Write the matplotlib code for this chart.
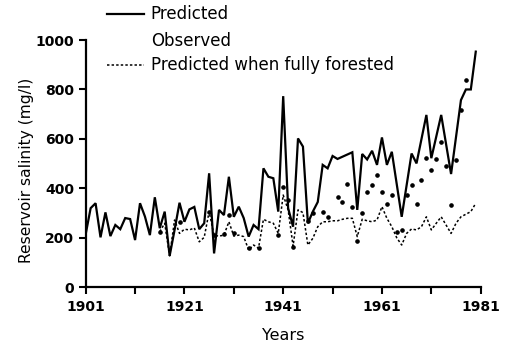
import matplotlib
matplotlib.use("Agg")
import matplotlib.pyplot as plt
from matplotlib.lines import Line2D

# Predicted reservoir salinity (mg/l)
pred_years = [1901, 1902, 1903, 1904, 1905, 1906, 1907, 1908, 1909, 1910,
              1911, 1912, 1913, 1914, 1915, 1916, 1917, 1918, 1919, 1920,
              1921, 1922, 1923, 1924, 1925, 1926, 1927, 1928, 1929, 1930,
              1931, 1932, 1933, 1934, 1935, 1936, 1937, 1938, 1939, 1940,
              1941, 1942, 1943, 1944, 1945, 1946, 1947, 1948, 1949, 1950,
              1951, 1952, 1955, 1956, 1957, 1958, 1959, 1960, 1961, 1962,
              1963, 1965, 1967, 1968, 1970, 1971, 1973, 1975, 1977, 1978,
              1979, 1980]
pred_vals = [215, 320, 340, 202, 303, 207, 252, 235, 280, 276,
             191, 340, 286, 211, 364, 239, 306, 127, 232, 342,
             265, 315, 325, 235, 259, 461, 137, 313, 292, 447,
             285, 326, 280, 205, 252, 235, 481, 447, 441, 306,
             773, 320, 245, 602, 569, 259, 306, 345, 495, 481,
             531, 519, 546, 313, 539, 517, 552, 495, 606, 495,
             548, 285, 541, 501, 697, 522, 697, 458, 757, 800,
             800, 953]

# Observed salinity
obs_years = [1916, 1920, 1926, 1927, 1929, 1930, 1931, 1934, 1936, 1940,
             1941, 1942, 1943, 1946, 1947, 1949, 1950, 1952, 1953, 1954,
             1955, 1956, 1957, 1958, 1959, 1960, 1961, 1962, 1963, 1964,
             1965, 1966, 1967, 1968, 1969, 1970, 1971, 1972, 1973, 1974,
             1975, 1976, 1977, 1978]
obs_vals = [225, 265, 306, 210, 215, 292, 218, 158, 160, 210,
            407, 353, 164, 270, 300, 306, 283, 366, 346, 418,
            326, 188, 302, 387, 414, 454, 387, 337, 373, 225,
            232, 373, 414, 337, 434, 522, 474, 519, 589, 490,
            333, 515, 717, 838]

# Predicted salinity under full forest cover
forest_years = [1916, 1917, 1918, 1919, 1920, 1921, 1922, 1923, 1924, 1925,
                1926, 1927, 1928, 1929, 1930, 1931, 1932, 1933, 1934, 1935,
                1936, 1937, 1938, 1939, 1940, 1941, 1942, 1943, 1944, 1945,
                1946, 1947, 1948, 1949, 1950, 1951, 1952, 1953, 1954, 1955,
                1956, 1957, 1958, 1959, 1960, 1961, 1962, 1963, 1964, 1965,
                1966, 1967, 1968, 1969, 1970, 1971, 1972, 1973, 1975, 1976,
                1977, 1979, 1980]
forest_vals = [225, 259, 127, 272, 218, 235, 232, 240, 184, 202,
               306, 210, 207, 211, 265, 207, 211, 205, 151, 171,
               158, 275, 265, 259, 218, 373, 313, 167, 313, 302,
               171, 198, 245, 265, 265, 269, 269, 275, 279, 279,
               205, 275, 269, 265, 272, 326, 279, 245, 200, 171,
               218, 236, 232, 245, 285, 232, 259, 285, 218, 259,
               285, 306, 340]

y_ticks = [0, 200, 400, 600, 800, 1000]
x_major = [1901, 1921, 1941, 1961, 1981]
x_minor = [1911, 1931, 1951, 1971]

W, H = 511, 345
fig = plt.figure(figsize=(W / 100, H / 100), dpi=100)
ax = fig.add_axes([85.7 / W, 1 - 287.3 / H, 395.0 / W, 247.3 / H])

ax.plot(pred_years, pred_vals, color="black", lw=1.6, solid_joinstyle="miter")
ax.plot(forest_years, forest_vals, color="black", lw=1.1,
        linestyle=(0, (1.6, 1.4)))
ax.plot(obs_years, obs_vals, linestyle="none", marker="o", ms=2.3,
        color="black")

ax.set_xlim(1901, 1981)
ax.set_ylim(0, 1000)
for side in ("top", "right"):
    ax.spines[side].set_visible(False)
for side in ("left", "bottom"):
    ax.spines[side].set_linewidth(1.6)

ax.set_yticks(y_ticks)
ax.set_xticks(x_major)
ax.set_xticks(x_minor, minor=True)
ax.tick_params(axis="both", which="both", direction="out", length=5,
               width=1.5, color="black")
ax.tick_params(axis="x", which="major", pad=4)
ax.tick_params(axis="y", which="major", pad=3.5)
for lab in ax.get_xticklabels() + ax.get_yticklabels():
    lab.set_fontweight("bold")
    lab.set_fontsize(10)
    lab.set_family("DejaVu Sans")

fig.text(27 / W, 1 - 170 / H, "Reservoir salinity (mg/l)", rotation=90,
         ha="center", va="center", fontsize=11.2, family="DejaVu Sans")
fig.text(283 / W, 1 - 335 / H, "Years", ha="center", va="center",
         fontsize=11.5, family="DejaVu Sans")

# Legend drawn in figure pixels
entries = [(14, "Predicted", "-"), (41, "Observed", None),
           (65, "Predicted when fully forested", (0, (1.6, 1.4)))]
for ypix, label, ls in entries:
    yf = 1 - ypix / H
    if ls is not None:
        fig.add_artist(Line2D([107 / W, 144 / W], [yf, yf], color="black",
                              lw=1.6 if ls == "-" else 1.1, linestyle=ls,
                              transform=fig.transFigure))
    fig.text(150.7 / W, yf, label, ha="left", va="center", fontsize=12,
             family="DejaVu Sans")

fig.savefig("out.png", dpi=100)
